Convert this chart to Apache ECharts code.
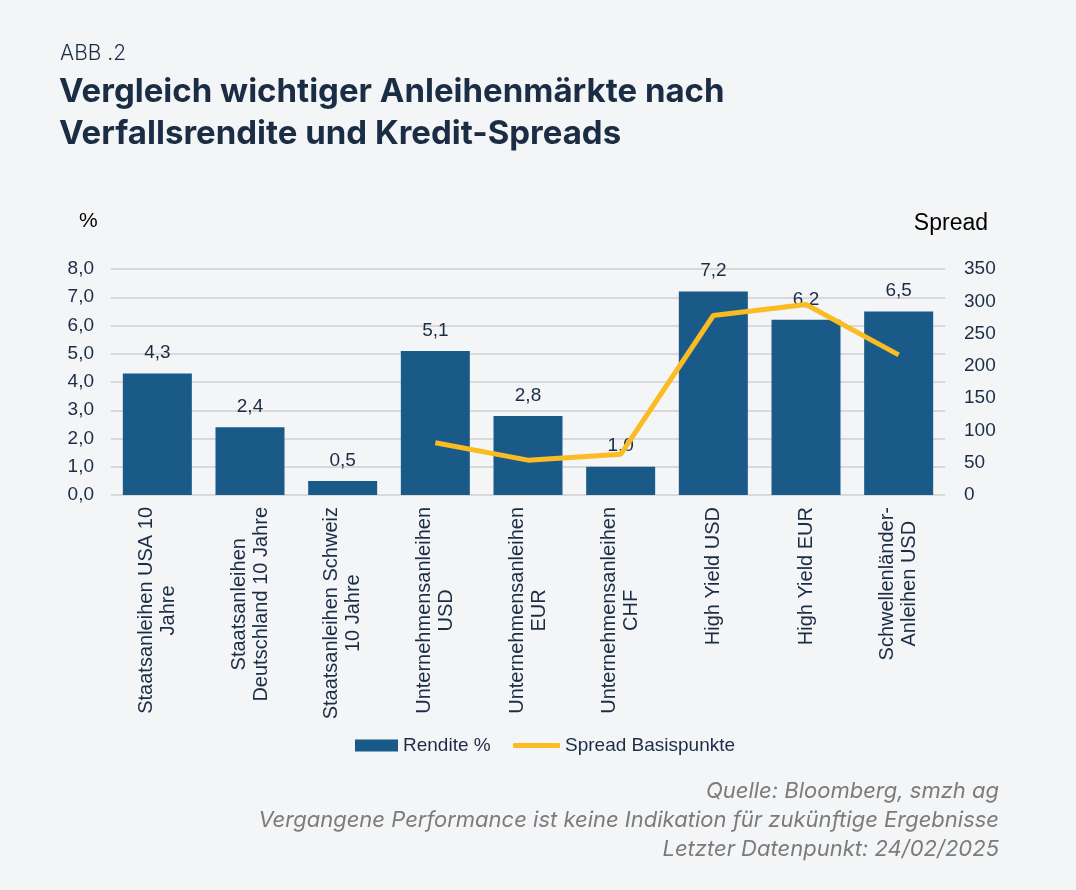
<!DOCTYPE html>
<html>
<head>
<meta charset="utf-8">
<script src="https://cdn.jsdelivr.net/npm/echarts@6/dist/echarts.min.js"></script>
<style>
  html, body { margin: 0; padding: 0; background: #f4f5f7; }
  #chart { width: 1076px; height: 890px; }
</style>
</head>
<body>
<div id="chart"></div>
<script>
// Kategorien (Zeilenumbruch wie im Original)
const categories = [
  'Staatsanleihen USA 10\nJahre',
  'Staatsanleihen\nDeutschland 10 Jahre',
  'Staatsanleihen Schweiz\n10 Jahre',
  'Unternehmensanleihen\nUSD',
  'Unternehmensanleihen\nEUR',
  'Unternehmensanleihen\nCHF',
  'High Yield USD',
  'High Yield EUR',
  'Schwellenländer-\nAnleihen USD'
];
// Rendite in %
const rendite = [4.3, 2.4, 0.5, 5.1, 2.8, 1.0, 7.2, 6.2, 6.5];
// Spread in Basispunkten (erst ab Unternehmensanleihen)
const spread = [null, null, null, 81, 54, 63, 278, 295, 217];

const footnotes = [
  'Quelle: Bloomberg, smzh ag',
  'Vergangene Performance ist keine Indikation für zukünftige Ergebnisse',
  'Letzter Datenpunkt: 24/02/2025'
];

const navy = '#1b2d45';
const barColor = '#1a5a89';
const lineColor = '#fbbc22';
const fontAxis = 'Liberation Sans, Arial, sans-serif';

const chart = echarts.init(document.getElementById('chart'));

const fmt = v => v.toFixed(1).replace('.', ',');

const legendText = { fontFamily: fontAxis, fontSize: 19, color: navy };

chart.setOption({
  backgroundColor: '#f4f5f7',
  title: [
    {
      text: 'ABB .2',
      left: 55, top: 38,
      textStyle: { fontFamily: 'Inter', fontWeight: 300, fontSize: 21, color: navy }
    },
    {
      text: 'Vergleich wichtiger Anleihenmärkte nach\nVerfallsrendite und Kredit-Spreads',
      left: 54, top: 66,
      textStyle: { fontFamily: 'Inter', fontWeight: 700, fontSize: 33, lineHeight: 42, color: navy }
    },
    {
      text: '%',
      left: 74, top: 206,
      textStyle: { fontFamily: fontAxis, fontWeight: 400, fontSize: 21, color: '#000' }
    },
    {
      text: 'Spread',
      right: 83, top: 207,
      textStyle: { fontFamily: fontAxis, fontWeight: 400, fontSize: 23, color: '#000' }
    }
  ].concat(footnotes.map((t, i) => ({
    text: t,
    right: 72, top: 775 + i * 29,
    textStyle: { fontFamily: 'Inter', fontStyle: 'italic', fontWeight: 400, fontSize: 22, color: '#7b7b7b' }
  }))),
  legend: [
    {
      left: 350, top: 731,
      itemWidth: 43, itemHeight: 12,
      icon: 'rect',
      textStyle: legendText,
      data: ['Rendite %']
    },
    {
      left: 508, top: 731,
      itemWidth: 47, itemHeight: 5,
      icon: 'roundRect',
      textStyle: legendText,
      data: ['Spread Basispunkte']
    }
  ],
  grid: { left: 111, right: 131, top: 269, bottom: 395 },
  xAxis: {
    type: 'category',
    data: categories,
    axisLine: { show: false },
    axisTick: { show: false },
    axisLabel: {
      interval: 0,
      rotate: 90,
      margin: 12,
      formatter: v => v.split('\n').map(s => '{c|' + s + '}').join('\n'),
      rich: {
        c: { fontFamily: fontAxis, fontSize: 20, lineHeight: 22, color: navy, align: 'center' }
      }
    }
  },
  yAxis: [
    {
      type: 'value',
      min: 0, max: 8, interval: 1,
      axisLine: { show: false },
      axisTick: { show: false },
      splitLine: { lineStyle: { color: '#d9d9d9', width: 2 } },
      axisLabel: {
        margin: 17,
        formatter: fmt,
        fontFamily: fontAxis, fontSize: 19, color: navy
      }
    },
    {
      type: 'value',
      min: 0, max: 350, interval: 50,
      position: 'right',
      axisLine: { show: false },
      axisTick: { show: false },
      splitLine: { show: false },
      axisLabel: {
        margin: 19,
        fontFamily: fontAxis, fontSize: 19, color: navy
      }
    }
  ],
  series: [
    {
      name: 'Rendite %',
      type: 'bar',
      data: rendite,
      barWidth: 69,
      itemStyle: { color: barColor },
      label: {
        show: true,
        position: 'top',
        distance: 11,
        formatter: p => fmt(p.value),
        fontFamily: fontAxis, fontSize: 19, color: navy
      },
      z: 2
    },
    {
      name: 'Spread Basispunkte',
      type: 'line',
      yAxisIndex: 1,
      data: spread,
      showSymbol: false,
      symbol: 'none',
      lineStyle: { color: lineColor, width: 5 },
      itemStyle: { color: lineColor },
      z: 3
    }
  ]
});
</script>
</body>
</html>
